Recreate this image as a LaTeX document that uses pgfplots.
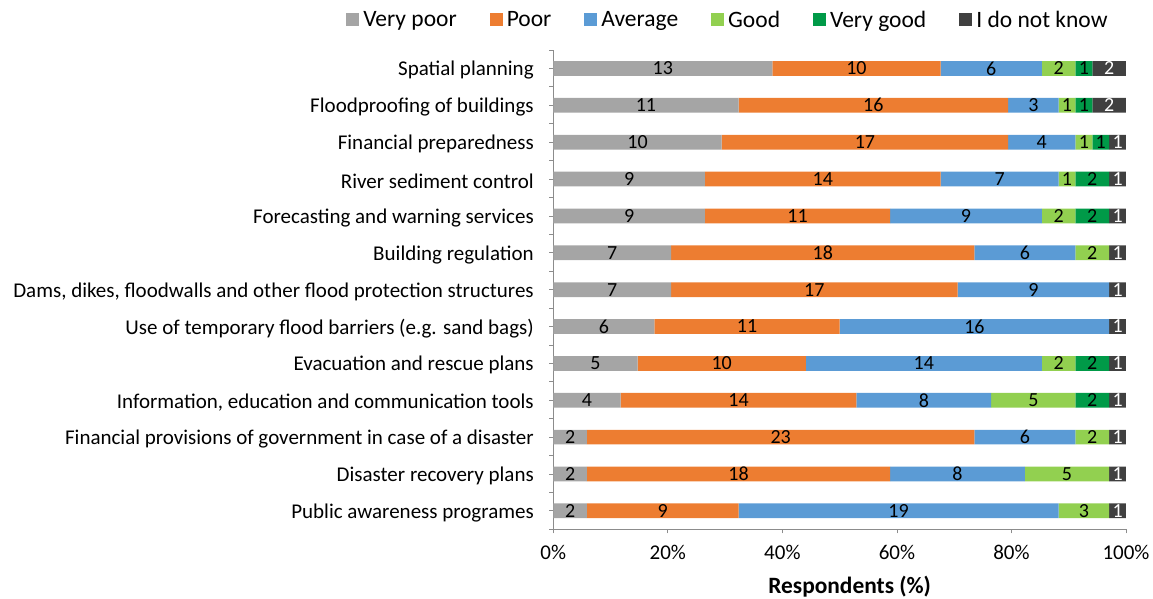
\documentclass[border=0pt]{standalone}
\usepackage{pgfplots}
\pgfplotsset{compat=1.18}
\usepackage{pgfplotstable}
\usepackage{fontspec}
\setmainfont{Carlito}

\definecolor{vpoor}{HTML}{A5A5A5}
\definecolor{poor}{HTML}{ED7D31}
\definecolor{avg}{HTML}{5B9BD5}
\definecolor{good}{HTML}{92D050}
\definecolor{vgood}{HTML}{009A48}
\definecolor{dk}{HTML}{404040}
\definecolor{axisgray}{HTML}{8C8C8C}

% counts of respondents (34 in total per measure)
\pgfplotstableread{
y vp p a g vg dk
12 13 10  6 2 1 2
11 11 16  3 1 1 2
10 10 17  4 1 1 1
9   9 14  7 1 2 1
8   9 11  9 2 2 1
7   7 18  6 2 0 1
6   7 17  9 0 0 1
5   6 11 16 0 0 1
4   5 10 14 2 2 1
3   4 14  8 5 2 1
2   2 23  6 2 0 1
1   2 18  8 5 0 1
0   2  9 19 3 0 1
}\ratings

\begin{document}
\begin{tikzpicture}
\useasboundingbox (-553.3pt,-69.7pt) rectangle (599.7pt,529.3pt);
\begin{axis}[
  scale only axis, width=572.7pt, height=479.3pt,
  xbar stacked, bar width=0.4,
  xmin=0, xmax=34, ymin=-0.5, ymax=12.5,
  axis lines*=left,
  axis line style={draw=axisgray, line width=0.8pt},
  xtick={0,6.8,13.6,20.4,27.2,34},
  xticklabels={0\%,20\%,40\%,60\%,80\%,100\%},
  ytick={0,...,12},
  yticklabels={
    Public awareness programes,
    Disaster recovery plans,
    Financial provisions of government in case of a disaster,
    {Information, education and communication tools},
    Evacuation and rescue plans,
    Use of temporary flood barriers (e.g. sand bags),
    {Dams, dikes, floodwalls and other flood protection structures},
    Building regulation,
    Forecasting and warning services,
    River sediment control,
    Financial preparedness\ ,
    Floodproofing of buildings,
    Spatial planning},
  minor ytick={-0.5,0.5,...,12.5},
  tick align=outside,
  major tick length=4pt, minor tick length=4pt,
  tick style={draw=axisgray, line width=0.8pt},
  tick label style={font=\fontsize{21}{25}\selectfont, text=black},
  yticklabel style={xshift=-12pt, yshift=-2pt},
  xticklabel style={yshift=-8pt},
  xlabel={\textbf{Respondents (\%)}},
  xlabel style={font=\fontsize{23.4}{27}\selectfont, yshift=-10pt, xshift=10pt},
  /pgf/number format/assume math mode=true,
  nodes near coords={\ifdim\segv pt>0pt\pgfmathprintnumber{\segv}\fi},
  every node near coord/.append style={anchor=center, inner sep=0pt,
    font=\fontsize{20}{24}\selectfont, text=black},
  legend columns=6,
  legend style={at={(0.305,1.063)}, anchor=center, draw=none, fill=none,
    font=\fontsize{23.5}{27}\selectfont,
    /tikz/every odd column/.append style={column sep=2pt},
    /tikz/every even column/.append style={column sep=31pt}},
  legend image code/.code={\fill (0pt,-6.5pt) rectangle (13pt,6.5pt);},
]
\addplot[fill=vpoor, draw=none, visualization depends on=\thisrow{vp}\as\segv]
  table[x=vp, y=y] {\ratings};
\addplot[fill=poor, draw=none, visualization depends on=\thisrow{p}\as\segv]
  table[x=p, y=y] {\ratings};
\addplot[fill=avg, draw=none, visualization depends on=\thisrow{a}\as\segv]
  table[x=a, y=y] {\ratings};
\addplot[fill=good, draw=none, visualization depends on=\thisrow{g}\as\segv]
  table[x=g, y=y] {\ratings};
\addplot[fill=vgood, draw=none, visualization depends on=\thisrow{vg}\as\segv]
  table[x=vg, y=y] {\ratings};
\addplot[fill=dk, draw=none, visualization depends on=\thisrow{dk}\as\segv,
  every node near coord/.append style={text=white}]
  table[x=dk, y=y] {\ratings};
\legend{Very poor, Poor, Average, Good, Very good, I do not know}
\end{axis}
\end{tikzpicture}
\end{document}
